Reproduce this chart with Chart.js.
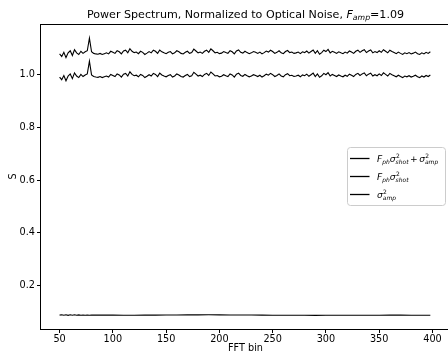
<!DOCTYPE html>
<html>
<head>
<meta charset="utf-8">
<script src="https://cdn.jsdelivr.net/npm/chart.js@4/dist/chart.umd.min.js"></script>
<style>
html,body{margin:0;padding:0;background:#fff;}
#wrap{width:448px;height:356px;overflow:hidden;position:relative;}
canvas{display:block;}
</style>
</head>
<body>
<div id="wrap"><canvas id="c" width="460" height="356" style="width:460px;height:356px"></canvas></div>
<script>
// ---- data ----
const bins = [50,52,54,56,58,60,62,64,66,68,70,72,74,76,78,80,82,84,86,88,90,92,94,96,98,
100,102,104,106,108,110,112,114,116,118,120,122,124,126,128,130,132,134,136,138,140,142,144,146,148,
150,152,154,156,158,160,162,164,166,168,170,172,174,176,178,180,182,184,186,188,190,192,194,196,198,
200,202,204,206,208,210,212,214,216,218,220,222,224,226,228,230,232,234,236,238,240,242,244,246,248,
250,252,254,256,258,260,262,264,266,268,270,272,274,276,278,280,282,284,286,288,290,292,294,296,298,
300,302,304,306,308,310,312,314,316,318,320,322,324,326,328,330,332,334,336,338,340,342,344,346,348,
350,352,354,356,358,360,362,364,366,368,370,372,374,376,378,380,382,384,386,388,390,392,394,396,398];

const totalVals = [1.080,1.070,1.086,1.066,1.084,1.092,1.074,1.096,1.084,1.078,1.090,1.082,1.088,1.092,
1.140,
1.088,1.082,1.080,1.079,1.082,1.078,1.081,1.084,1.080,1.090,
1.086,1.082,1.092,1.088,1.080,1.091,1.094,1.084,1.100,1.090,1.085,1.087,1.081,1.090,1.086,1.078,1.083,1.089,1.084,1.094,1.090,1.082,1.095,1.088,1.084,
1.081,1.086,1.089,1.080,1.084,1.092,1.088,1.082,1.080,1.086,1.090,1.082,1.085,1.098,1.091,1.084,1.087,1.082,1.090,1.094,1.086,1.099,1.092,1.084,1.086,
1.081,1.083,1.089,1.085,1.082,1.092,1.088,1.080,1.091,1.095,1.086,1.083,1.090,1.085,1.081,1.084,1.089,1.086,1.082,1.087,1.080,1.085,1.091,1.087,1.094,
1.089,1.082,1.086,1.092,1.084,1.081,1.089,1.093,1.085,1.087,1.082,1.084,1.087,1.081,1.088,1.085,1.091,1.083,1.089,1.095,1.082,1.092,1.079,1.085,1.094,
1.089,1.097,1.084,1.090,1.086,1.082,1.088,1.084,1.081,1.087,1.083,1.091,1.087,1.082,1.090,1.094,1.086,1.092,1.096,1.085,1.091,1.095,1.084,1.089,1.085,
1.092,1.086,1.096,1.090,1.084,1.094,1.089,1.085,1.081,1.087,1.082,1.078,1.084,1.081,1.085,1.080,1.083,1.087,1.081,1.078,1.084,1.080,1.086,1.082,1.088];

const shotVals = [0.992,0.982,0.998,0.978,0.996,1.004,0.986,1.008,0.996,0.990,1.002,0.994,1.000,1.004,
1.052,
1.000,0.994,0.992,0.991,0.994,0.990,0.993,0.996,0.992,1.002,
0.998,0.994,1.004,1.000,0.992,1.003,1.006,0.996,1.012,1.002,0.997,0.999,0.993,1.002,0.998,0.990,0.995,1.001,0.996,1.006,1.002,0.994,1.007,1.000,0.996,
0.993,0.998,1.001,0.992,0.996,1.004,1.000,0.994,0.992,0.998,1.002,0.994,0.997,1.010,1.003,0.996,0.999,0.994,1.002,1.006,0.998,1.011,1.004,0.996,0.998,
0.993,0.995,1.001,0.997,0.994,1.004,1.000,0.992,1.003,1.007,0.998,0.995,1.002,0.997,0.993,0.996,1.001,0.998,0.994,0.999,0.992,0.997,1.003,0.999,1.006,
1.001,0.994,0.998,1.004,0.996,0.993,1.001,1.005,0.997,0.999,0.994,0.996,0.999,0.993,1.000,0.997,1.003,0.995,1.001,1.007,0.994,1.004,0.991,0.997,1.006,
1.001,1.009,0.996,1.002,0.998,0.994,1.000,0.996,0.993,0.999,0.995,1.003,0.999,0.994,1.002,1.006,0.998,1.004,1.008,0.997,1.003,1.007,0.996,1.001,0.997,
1.004,0.998,1.008,1.002,0.996,1.006,1.001,0.997,0.993,0.999,0.994,0.990,0.996,0.993,0.997,0.992,0.995,0.999,0.993,0.990,0.996,0.992,0.998,0.994,1.000];

const ampBins = [50,52,54,56,58,60,62,64,66,68,70,72,74,76,78,80,90,100,110,120,130,140,150,160,170,180,190,200,
210,220,230,240,250,260,270,280,290,300,310,320,330,340,350,360,370,380,390,398];
const ampVals = [0.087,0.0885,0.0865,0.0885,0.0862,0.0882,0.0868,0.0882,0.0864,0.088,0.0868,0.0876,0.0866,0.0875,0.0868,0.0872,
0.087,0.087,0.0868,0.0868,0.087,0.0872,0.0875,0.0878,0.088,0.088,0.0882,0.088,0.0878,0.0876,0.0873,0.087,0.0868,0.0866,0.0864,
0.0863,0.0862,0.0863,0.0865,0.0866,0.0867,0.0868,0.0868,0.0869,0.0869,0.0868,0.0868,0.0868];

const xTicks = [50,100,150,200,250,300,350,400];
const yTicks = [0.2,0.4,0.6,0.8,1.0];
const seriesNames = ['F_ph sigma^2_shot + sigma^2_amp','F_ph sigma^2_shot','sigma^2_amp'];

// ---- rich text helpers ----
const FAM = '"DejaVu Sans"';
function fnt(size, it){ return (it ? 'italic ' : '') + size + 'px ' + FAM; }
function layoutRich(ctx, toks, size, sc){
  let w = 0;
  const items = [];
  for (const t of toks){
    if (t.t !== undefined){
      ctx.font = fnt(size, t.it);
      const tw = ctx.measureText(t.t).width;
      items.push({x:w, text:t.t, font:fnt(size,t.it), dy:0});
      w += tw;
    } else if (t.sp !== undefined){
      w += t.sp;
    } else {
      const ss = size*sc;
      let adv = 0;
      const both = t.sup !== undefined && t.sub !== undefined;
      if (t.sup !== undefined){
        ctx.font = fnt(ss, false);
        const tw = ctx.measureText(t.sup).width;
        items.push({x:w+0.3, text:t.sup, font:fnt(ss,false), dy:-size*0.42});
        adv = Math.max(adv, tw+0.3);
      }
      if (t.sub !== undefined){
        ctx.font = fnt(ss, true);
        const tw = ctx.measureText(t.sub).width;
        items.push({x:w, text:t.sub, font:fnt(ss,true), dy:size*(both?0.3:0.22)});
        adv = Math.max(adv, tw);
      }
      w += adv;
    }
  }
  return {w, items};
}
function drawRich(ctx, toks, x, y, size, align, sc){
  const L = layoutRich(ctx, toks, size, sc || 0.7);
  let x0 = x;
  if (align === 'center') x0 = x - L.w/2;
  ctx.textAlign = 'left';
  ctx.textBaseline = 'alphabetic';
  ctx.fillStyle = '#000';
  for (const it of L.items){
    ctx.font = it.font;
    ctx.fillText(it.text, x0 + it.x, y + it.dy);
  }
}

const titleToks = [{t:'Power Spectrum, Normalized to Optical Noise, '},{t:'F',it:true},{sub:'amp'},{t:'=1.09'}];
const legendToks = [
  [{t:'F',it:true},{sub:'ph'},{t:'σ',it:true},{sup:'2',sub:'shot'},{sp:1.5},{t:'+'},{sp:1.5},{t:'σ',it:true},{sup:'2',sub:'amp'}],
  [{t:'F',it:true},{sub:'ph'},{t:'σ',it:true},{sup:'2',sub:'shot'}],
  [{t:'σ',it:true},{sup:'2',sub:'amp'}]
];

const decor = {
  id:'decor',
  afterDraw(chart){
    const ctx = chart.ctx, ca = chart.chartArea;
    ctx.save();
    // spines
    ctx.strokeStyle = '#000'; ctx.lineWidth = 1;
    const l = Math.floor(ca.left)-0.5, t = Math.floor(ca.top)+0.5, r = Math.floor(ca.right)-0.5, b = Math.floor(ca.bottom)+0.5;
    ctx.strokeRect(l, t, r-l, b-t);
    const cx = (ca.left+ca.right)/2, cy = (ca.top+ca.bottom)/2;
    // title
    drawRich(ctx, titleToks, cx, 17.5, 11.1, 'center', 0.7);
    // axis titles
    ctx.fillStyle = '#000';
    ctx.font = fnt(9.7,false);
    ctx.textAlign = 'center'; ctx.textBaseline = 'alphabetic';
    ctx.fillText('FFT bin', cx, 351);
    ctx.save();
    ctx.translate(15.5, cy);
    ctx.rotate(-Math.PI/2);
    ctx.fillText('S', 0, 0);
    ctx.restore();
    // legend
    const bx = 347.5, by = 147.5, bw = 98, bh = 58, rad = 3;
    ctx.beginPath();
    ctx.moveTo(bx+rad, by);
    ctx.lineTo(bx+bw-rad, by); ctx.quadraticCurveTo(bx+bw, by, bx+bw, by+rad);
    ctx.lineTo(bx+bw, by+bh-rad); ctx.quadraticCurveTo(bx+bw, by+bh, bx+bw-rad, by+bh);
    ctx.lineTo(bx+rad, by+bh); ctx.quadraticCurveTo(bx, by+bh, bx, by+bh-rad);
    ctx.lineTo(bx, by+rad); ctx.quadraticCurveTo(bx, by, bx+rad, by);
    ctx.closePath();
    ctx.fillStyle = 'rgba(255,255,255,0.8)'; ctx.fill();
    ctx.strokeStyle = '#cccccc'; ctx.lineWidth = 1; ctx.stroke();
    const rows = [158.5, 176.5, 194.5];
    chart.data.datasets.forEach((ds, i) => {
      ctx.strokeStyle = ds.borderColor; ctx.lineWidth = 1.3;
      ctx.beginPath(); ctx.moveTo(350, rows[i]); ctx.lineTo(369.5, rows[i]); ctx.stroke();
      drawRich(ctx, legendToks[i], 377, rows[i]+3, 9.1, 'left', 0.66);
    });
    ctx.restore();
  }
};

const tickFont = {family:'DejaVu Sans', size:9.7};
new Chart(document.getElementById('c'), {
  type:'line',
  data:{
    datasets:[
      {label:seriesNames[0], data:bins.map((b,i)=>({x:b,y:totalVals[i]})), borderColor:'#000', borderWidth:1.1, pointRadius:0, tension:0},
      {label:seriesNames[1], data:bins.map((b,i)=>({x:b,y:shotVals[i]})), borderColor:'#000', borderWidth:1.1, pointRadius:0, tension:0},
      {label:seriesNames[2], data:ampBins.map((b,i)=>({x:b,y:ampVals[i]})), borderColor:'#000', borderWidth:1.1, pointRadius:0, tension:0}
    ]
  },
  options:{
    responsive:false, animation:false, devicePixelRatio:1,
    layout:{padding:{top:24,right:10,left:0,bottom:0}},
    plugins:{legend:{display:false}, title:{display:false}, tooltip:{enabled:false}},
    scales:{
      x:{type:'linear', min:32.55, max:416.45,
        afterBuildTicks:s=>{s.ticks = xTicks.map(v=>({value:v}));},
        afterFit:s=>{s.height = 27;},
        grid:{drawOnChartArea:false, drawTicks:true, tickLength:4, color:'#000', lineWidth:1},
        border:{display:false},
        ticks:{color:'#000', font:tickFont, padding:1, maxRotation:0, autoSkip:false, callback:v=>String(v)}
      },
      y:{type:'linear', min:0.0343, max:1.1937,
        afterBuildTicks:s=>{s.ticks = yTicks.map(v=>({value:v}));},
        afterFit:s=>{s.width = 41;},
        grid:{drawOnChartArea:false, drawTicks:true, tickLength:4, color:'#000', lineWidth:1},
        border:{display:false},
        ticks:{color:'#000', font:tickFont, padding:2, autoSkip:false, callback:v=>Number(v).toFixed(1)}
      }
    }
  },
  plugins:[decor]
});
</script>
</body>
</html>
